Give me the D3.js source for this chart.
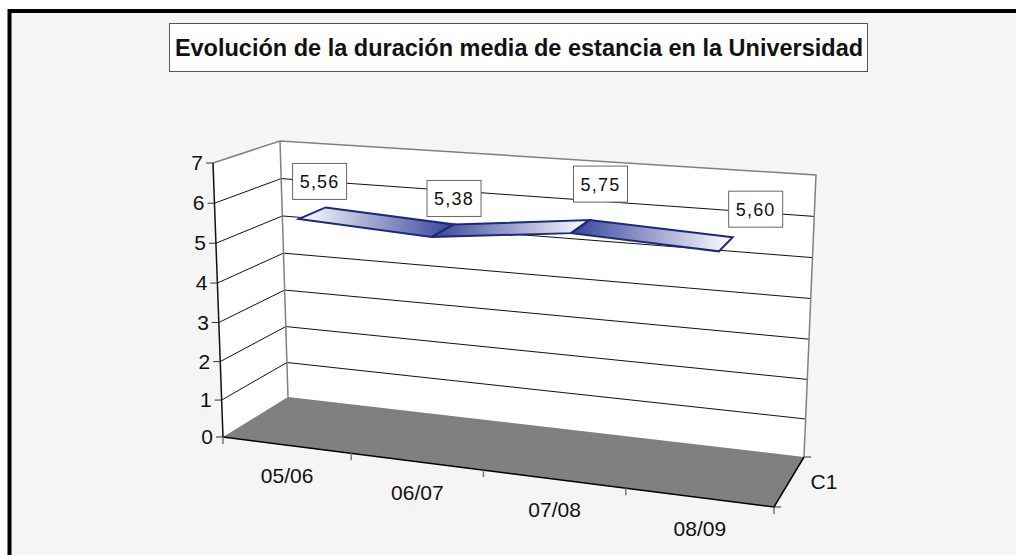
<!DOCTYPE html>
<html>
<head>
<meta charset="utf-8">
<script src="https://cdn.jsdelivr.net/npm/d3@7"></script>
<style>
  html, body { margin: 0; padding: 0; background: #fff; }
  svg { display: block; }
  text { font-family: "Liberation Sans", Arial, sans-serif; fill: #111; }
</style>
</head>
<body>
<svg></svg>
<script>
var title = "Evolución de la duración media de estancia en la Universidad";
var categories = ["05/06", "06/07", "07/08", "08/09"];
var values = [5.56, 5.38, 5.75, 5.60];
var valueLabels = ["5,56", "5,38", "5,75", "5,60"];
var valueTicks = [0, 1, 2, 3, 4, 5, 6, 7];
var seriesName = "C1";

var width = 1016, height = 555;

var svg = d3.select("svg").attr("width", width).attr("height", height);

// corners of the 3d box: f = front, b = back, l = left, r = right, 0 = floor, 1 = top
var fl0 = [223, 437], fl1 = [213, 163], fr0 = [774, 507], fr1 = [790, 205];
var bl0 = [288, 397], bl1 = [280, 141], br0 = [804, 457], br1 = [816, 175];

// uneven ranges fake the perspective of the box
var uScale = d3.scaleLinear().domain([0, 1, 2, 3, 4]).range([0, 0.2327, 0.4727, 0.731, 1]);
var vScale = d3.scalePow().exponent(1.03).domain([0, 7]).range([0, 1]);

function mix(a, b, t) { return [a[0] + (b[0] - a[0]) * t, a[1] + (b[1] - a[1]) * t]; }

// u along the categories, value on the y axis, d from front (0) to back (1)
function project(u, value, d) {
  var v = vScale(value);
  var front = mix(mix(fl0, fr0, u), mix(fl1, fr1, u), v);
  var back = mix(mix(bl0, br0, u), mix(bl1, br1, u), v);
  return mix(front, back, d);
}

function uOf(i) { return uScale(i + 0.5); }

var line = d3.line();
var poly = function(pts) { return line(pts) + "Z"; };

// background and frame
svg.append("rect")
    .attr("x", 9.5).attr("y", 11)
    .attr("width", width + 20).attr("height", height + 20)
    .attr("fill", "#f5f5f5")
    .attr("stroke", "#000")
    .attr("stroke-width", 4);

// walls
svg.append("path")
    .attr("d", poly([project(0, 0, 0), project(0, 7, 0), project(0, 7, 1), project(0, 0, 1)]))
    .attr("fill", "#fff");
svg.append("path")
    .attr("d", poly([project(0, 0, 1), project(0, 7, 1), project(1, 7, 1), project(1, 0, 1)]))
    .attr("fill", "#fff");

// gridlines
svg.append("g").selectAll("path")
  .data(valueTicks.filter(function(d) { return d > 0 && d < 7; }))
  .enter().append("path")
    .attr("d", function(d) { return line([project(0, d, 0), project(0, d, 1), project(1, d, 1)]); })
    .attr("fill", "none")
    .attr("stroke", "#111")
    .attr("stroke-width", 1);

// wall edges
svg.append("path")
    .attr("d", line([project(0, 7, 0), project(0, 7, 1), project(1, 7, 1), project(1, 0, 1)]))
    .attr("fill", "none").attr("stroke", "#808080").attr("stroke-width", 1.5);
svg.append("path")
    .attr("d", line([project(0, 7, 1), project(0, 0, 1)]))
    .attr("fill", "none").attr("stroke", "#808080").attr("stroke-width", 1.5);

// floor
svg.append("path")
    .attr("d", poly([project(0, 0, 0), project(1, 0, 0), project(1, 0, 1), project(0, 0, 1)]))
    .attr("fill", "#808080");
svg.append("path")
    .attr("d", line([project(0, 0, 0), project(1, 0, 0), project(1, 0, 1)]))
    .attr("fill", "none").attr("stroke", "#000").attr("stroke-width", 1.5);

// value axis
svg.append("path")
    .attr("d", line([project(0, 7, 0), project(0, 0, 0)]))
    .attr("fill", "none").attr("stroke", "#111").attr("stroke-width", 1.5);

var yTick = svg.append("g").selectAll("g")
  .data(valueTicks)
  .enter().append("g")
    .attr("transform", function(d) { return "translate(" + project(0, d, 0) + ")"; });
yTick.append("line")
    .attr("x1", -7).attr("x2", 0)
    .attr("stroke", "#333");
yTick.append("text")
    .attr("x", -10).attr("y", 7)
    .attr("text-anchor", "end")
    .attr("font-size", 21)
    .text(function(d) { return d; });

// category ticks and labels
svg.append("g").selectAll("line")
  .data(d3.range(categories.length + 1))
  .enter().append("line")
    .attr("transform", function(i) { return "translate(" + project(uScale(i), 0, 0) + ")"; })
    .attr("y2", 7)
    .attr("stroke", "#777")
    .attr("stroke-width", 1.5);

svg.append("g").selectAll("text")
  .data(categories)
  .enter().append("text")
    .attr("transform", function(d, i) { return "translate(" + project(uOf(i), 0, 0) + ")"; })
    .attr("y", 38)
    .attr("text-anchor", "middle")
    .attr("font-size", 21)
    .text(function(d) { return d; });

// depth axis
svg.append("g").selectAll("line")
  .data([0, 1])
  .enter().append("line")
    .attr("transform", function(d) { return "translate(" + project(1, 0, d) + ")"; })
    .attr("x2", 7)
    .attr("stroke", "#333");
svg.append("text")
    .attr("transform", "translate(" + project(1, 0, 0.5) + ")")
    .attr("x", 35).attr("y", 7)
    .attr("text-anchor", "middle")
    .attr("font-size", 21)
    .text(seriesName);

// ribbon
var ribbonFront = 0.28, ribbonBack = 0.71;
var navy = "#36439a";
var defs = svg.append("defs");
var segments = d3.pairs(d3.range(values.length));

svg.append("g").selectAll("path")
  .data(segments)
  .enter().append("path")
    .attr("d", function(s) {
      return poly([
        project(uOf(s[0]), values[s[0]], ribbonFront),
        project(uOf(s[0]), values[s[0]], ribbonBack),
        project(uOf(s[1]), values[s[1]], ribbonBack),
        project(uOf(s[1]), values[s[1]], ribbonFront)
      ]);
    })
    .attr("fill", function(s, i) {
      var x0 = project(uOf(s[0]), values[s[0]], ribbonFront)[0];
      var x1 = project(uOf(s[1]), values[s[1]], ribbonBack)[0];
      var g = defs.append("linearGradient")
          .attr("id", "seg" + i)
          .attr("gradientUnits", "userSpaceOnUse")
          .attr("x1", x0).attr("x2", x1).attr("y1", 0).attr("y2", 0);
      g.append("stop").attr("offset", 0).attr("stop-color", i === 0 ? "#fff" : navy);
      g.append("stop").attr("offset", 1).attr("stop-color", i === 0 ? navy : "#fff");
      return "url(#seg" + i + ")";
    })
    .attr("stroke", "#1d2878")
    .attr("stroke-width", 2);

// data labels, nudged the way they were placed by hand in the original
var labelShift = [[-6, -26], [0, -26], [11, -36], [23, -28]];
var labelBoxW = 54, labelBoxH = 36;

var lab = svg.append("g").selectAll("g")
  .data(values)
  .enter().append("g")
    .attr("transform", function(d, i) {
      var p = project(uOf(i), d, ribbonBack);
      return "translate(" + (p[0] + labelShift[i][0]) + "," + (p[1] + labelShift[i][1]) + ")";
    });
lab.append("rect")
    .attr("x", -labelBoxW / 2).attr("y", -labelBoxH / 2)
    .attr("width", labelBoxW).attr("height", labelBoxH)
    .attr("fill", "#fff")
    .attr("stroke", "#666")
    .attr("stroke-width", 1);
lab.append("text")
    .attr("y", 6.5)
    .attr("text-anchor", "middle")
    .attr("font-size", 18)
    .attr("letter-spacing", 1.2)
    .text(function(d, i) { return valueLabels[i]; });

// title
svg.append("rect")
    .attr("x", 169.5).attr("y", 23.5)
    .attr("width", 698).attr("height", 48)
    .attr("fill", "#fff")
    .attr("stroke", "#555")
    .attr("stroke-width", 1);
svg.append("text")
    .attr("x", 519).attr("y", 55.5)
    .attr("text-anchor", "middle")
    .attr("font-size", 23.5)
    .attr("font-weight", "bold")
    .attr("fill", "#000")
    .text(title);
</script>
</body>
</html>
